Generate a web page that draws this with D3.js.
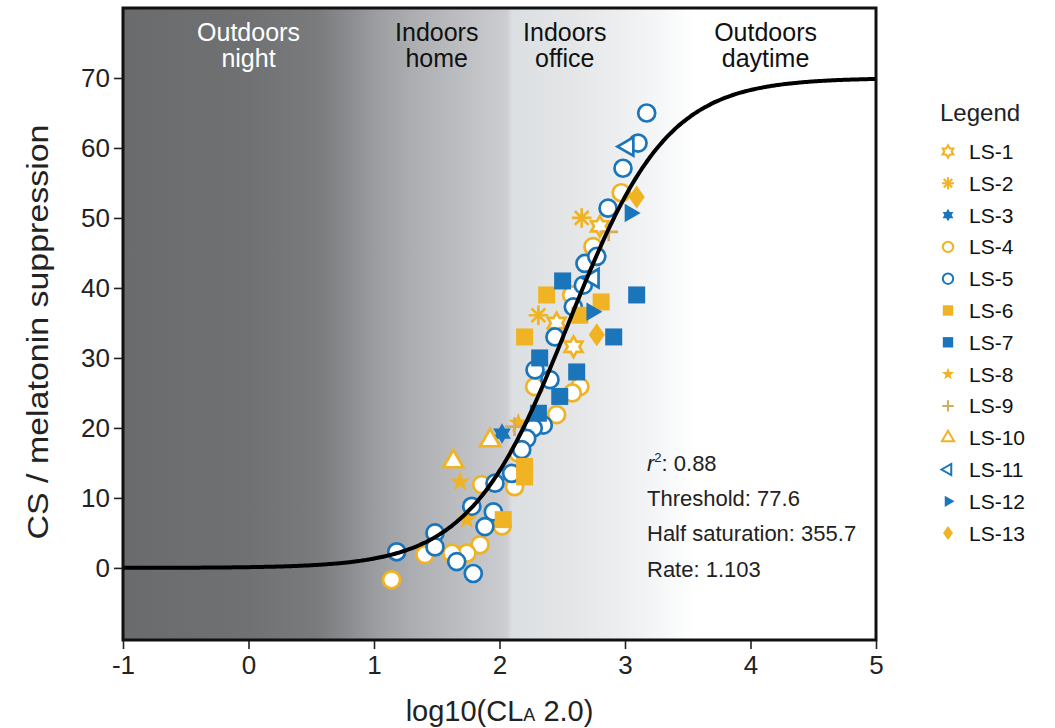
<!DOCTYPE html>
<html>
<head>
<meta charset="utf-8">
<script src="https://cdn.jsdelivr.net/npm/d3@7"></script>
<style>
  body { margin: 0; background: #fff; }
  text { font-family: "Liberation Sans", Arial, sans-serif; }
</style>
</head>
<body>
<svg id="chart" width="1055" height="728"></svg>
<script>
// Data: [log10(CLA 2.0), CS / melatonin suppression]
var ls1 = [[2.80, 48.8], [2.59, 31.6], [2.455, 35.0]];
var ls2 = [[2.655, 50.0], [2.31, 36.1]];
var ls3 = [[2.02, 19.2]];
var ls4 = [[2.97, 53.6], [2.745, 45.9], [2.575, 39.0], [2.28, 25.9], [2.64, 25.9], [2.58, 25.0],
           [2.455, 21.9], [2.15, 16.4], [1.858, 11.9], [2.12, 11.6], [2.02, 6.0], [1.845, 3.3],
           [1.74, 2.1], [1.62, 2.1], [1.406, 1.9], [1.14, -1.7]];
var ls5 = [[3.173, 65.0], [3.104, 60.7], [2.984, 57.1], [2.865, 51.4], [2.681, 43.5], [2.775, 44.5],
           [2.668, 40.4], [2.588, 37.3], [2.442, 33.0], [2.283, 28.3], [2.402, 26.9], [2.349, 20.4],
           [2.269, 20.0], [2.217, 18.5], [2.177, 16.9], [2.097, 13.5], [1.964, 12.1], [1.779, 8.8],
           [1.951, 8.0], [1.884, 5.9], [1.486, 5.0], [1.486, 3.0], [1.659, 0.9], [1.791, -0.8], [1.181, 2.3]];
var ls6 = [[2.376, 39.0], [2.81, 38.0], [2.64, 36.1], [2.20, 33.0], [2.20, 14.5], [2.20, 13.0], [2.03, 6.9]];
var ls7 = [[2.503, 41.0], [3.093, 39.0], [2.91, 33.0], [2.32, 30.0], [2.615, 28.0], [2.48, 24.5], [2.31, 22.1]];
var ls8 = [[2.15, 20.7], [1.685, 12.3], [1.74, 6.9]];
var ls9 = [[2.87, 48.0], [2.12, 20.2]];
var ls10 = [[1.925, 18.2], [1.632, 15.2]];
var ls11 = [[3.024, 60.2], [2.747, 41.4]];
var ls12 = [[3.04, 50.7], [2.735, 36.6]];
var ls13 = [[3.093, 53.0], [2.775, 33.3]];

var seriesNames = ['LS-1', 'LS-2', 'LS-3', 'LS-4', 'LS-5', 'LS-6', 'LS-7', 'LS-8', 'LS-9', 'LS-10', 'LS-11', 'LS-12', 'LS-13'];
var seriesData = [ls1, ls2, ls3, ls4, ls5, ls6, ls7, ls8, ls9, ls10, ls11, ls12, ls13];

var xTicks = [-1, 0, 1, 2, 3, 4, 5];
var yTicks = [0, 10, 20, 30, 40, 50, 60, 70];

var zoneNames = [['Outdoors', 'night'], ['Indoors', 'home'], ['Indoors', 'office'], ['Outdoors', 'daytime']];
var zoneCenters = [0.0, 1.5, 2.52, 4.12];

// fitted curve parameters (as printed on the chart)
var fitMax = 70, halfSat = 355.7, rate = 1.103, threshold = 77.6, r2 = 0.88;

// Set up
var orange = '#f0b323', blue = '#1b75bb', tan = '#d7aa62';
var markerStyles = [
    { shape: 'hexagram', color: orange, open: true },
    { shape: 'asterisk', color: orange, line: true },
    { shape: 'hexagram', color: blue },
    { shape: 'circle', color: orange, open: true },
    { shape: 'circle', color: blue, open: true },
    { shape: 'square', color: orange },
    { shape: 'square', color: blue },
    { shape: 'star', color: orange },
    { shape: 'plus', color: tan, line: true },
    { shape: 'triUp', color: orange, open: true },
    { shape: 'triLeft', color: blue, open: true },
    { shape: 'triRight', color: blue },
    { shape: 'diamond', color: orange }
];

var margin = { left: 123, right: 179, top: 8, bottom: 88 },
    width = 1055, height = 728;

var svg = d3.select('#chart');
var xScale = d3.scaleLinear().domain([-1, 5]).range([margin.left, width - margin.right]);
var yScale = d3.scaleLinear().domain([-10.3, 80]).range([height - margin.bottom, margin.top]);

// polygon helper: alternating outer/inner radius
function poly(n, R, r, start) {
    var pts = [], k = r ? 2 * n : n;
    for (var i = 0; i < k; i++) {
        var a = (start + i * 360 / k) * Math.PI / 180;
        var rr = (r && i % 2) ? r : R;
        pts.push([rr * Math.cos(a), rr * Math.sin(a)]);
    }
    return 'M' + pts.map(function(p) { return p[0].toFixed(2) + ',' + p[1].toFixed(2); }).join('L') + 'Z';
}

function markerPath(shape, s) {
    switch (shape) {
        case 'circle': return d3.symbol(d3.symbolCircle, Math.PI * s * s)();
        case 'square': return 'M' + (-s) + ',' + (-s) + 'h' + 2 * s + 'v' + 2 * s + 'h' + (-2 * s) + 'Z';
        case 'diamond': return 'M0,' + (-1.35 * s) + 'L' + (0.95 * s) + ',0L0,' + (1.35 * s) + 'L' + (-0.95 * s) + ',0Z';
        case 'star': return poly(5, 1.25 * s, 0.5 * s, -90);
        case 'hexagram': return poly(6, 1.2 * s, 1.2 * s / Math.sqrt(3), -90);
        case 'triUp': return poly(3, 1.35 * s, 0, -90);
        case 'triLeft': return poly(3, 1.25 * s, 0, 180);
        case 'triRight': return poly(3, 1.25 * s, 0, 0);
        case 'asterisk':
            var p = '';
            for (var i = 0; i < 4; i++) {
                var a = i * Math.PI / 4, c = Math.cos(a) * 1.15 * s, d = Math.sin(a) * 1.15 * s;
                p += 'M' + (-c).toFixed(2) + ',' + (-d).toFixed(2) + 'L' + c.toFixed(2) + ',' + d.toFixed(2);
            }
            return p;
        case 'plus':
            return 'M' + (-1.1 * s) + ',0H' + (1.1 * s) + 'M0,' + (-1.1 * s) + 'V' + (1.1 * s);
    }
}

function styleMarker(sel, st, sw) {
    sel.attr('fill', st.line ? 'none' : (st.open ? '#fff' : st.color))
        .attr('stroke', (st.open || st.line) ? st.color : 'none')
        .attr('stroke-width', sw);
}

// background gradient (light environment zones)
var defs = svg.append('defs');
var grad = defs.append('linearGradient')
    .attr('id', 'bg')
    .attr('gradientUnits', 'userSpaceOnUse')
    .attr('x1', xScale(-1)).attr('x2', xScale(5))
    .attr('y1', 0).attr('y2', 0);
var stops = [[-1, '#6a6b6d'], [0.0, '#707173'], [0.55, '#7a7b7d'], [0.8, '#8b8c8f'], [1.0, '#9a9c9f'],
             [1.3, '#abadb0'], [1.6, '#b8babd'], [2.0, '#c9cbce'], [2.06, '#cfced3'], [2.1, '#dcdfe1'],
             [2.6, '#e4e6e8'], [3.0, '#edeff0'], [3.3, '#f6f7f8'], [3.55, '#ffffff'], [5, '#ffffff']];
stops.forEach(function(s) {
    grad.append('stop')
        .attr('offset', ((s[0] + 1) / 6 * 100) + '%')
        .attr('stop-color', s[1]);
});

defs.append('clipPath').attr('id', 'clip')
    .append('rect')
    .attr('x', xScale(-1)).attr('y', yScale(80))
    .attr('width', xScale(5) - xScale(-1))
    .attr('height', yScale(-10.3) - yScale(80));

svg.append('rect')
    .attr('x', xScale(-1)).attr('y', yScale(80))
    .attr('width', xScale(5) - xScale(-1))
    .attr('height', yScale(-10.3) - yScale(80))
    .attr('fill', 'url(#bg)');

// zone labels
zoneNames.forEach(function(z, i) {
    var t = svg.append('text')
        .attr('x', xScale(zoneCenters[i]))
        .attr('y', 41)
        .attr('text-anchor', 'middle')
        .attr('font-size', 25)
        .attr('fill', i === 0 ? '#ffffff' : '#111');
    t.append('tspan').attr('x', xScale(zoneCenters[i])).text(z[0]);
    t.append('tspan').attr('x', xScale(zoneCenters[i])).attr('dy', 26).text(z[1]);
});

// Draw markers
var chartG = svg.append('g').attr('clip-path', 'url(#clip)');
seriesData.forEach(function(data, i) {
    var st = markerStyles[i];
    chartG.selectAll('.m' + i)
        .data(data)
        .enter().append('path')
        .attr('class', 'm' + i)
        .attr('d', markerPath(st.shape, 8.5))
        .attr('transform', function(d) { return 'translate(' + xScale(d[0]) + ',' + yScale(d[1]) + ')'; })
        .call(styleMarker, st, 2.7);
});

// fitted curve
var curveX = d3.range(-1, 5.001, 0.02);
var fitLine = d3.line()
    .x(function(d) { return xScale(d); })
    .y(function(d) { return yScale(fitMax * (1 - 1 / (1 + Math.pow(Math.pow(10, d) / halfSat, rate)))); })
    .curve(d3.curveBasis);
chartG.append('path')
    .datum(curveX)
    .attr('d', fitLine)
    .attr('fill', 'none')
    .attr('stroke', '#000')
    .attr('stroke-width', 4);

// frame
svg.append('rect')
    .attr('x', xScale(-1)).attr('y', yScale(80))
    .attr('width', xScale(5) - xScale(-1))
    .attr('height', yScale(-10.3) - yScale(80))
    .attr('fill', 'none')
    .attr('stroke', '#111')
    .attr('stroke-width', 3);

// axes
var xAxis = d3.axisBottom(xScale).tickValues(xTicks).tickSize(8).tickPadding(7).tickFormat(d3.format('d'));
var yAxis = d3.axisLeft(yScale).tickValues(yTicks).tickSize(8).tickPadding(4);

var gx = svg.append('g').attr('class', 'axis x')
    .attr('transform', 'translate(0,' + (height - margin.bottom + 1) + ')')
    .call(xAxis);
var gy = svg.append('g').attr('class', 'axis y')
    .attr('transform', 'translate(' + (margin.left - 1) + ',0)')
    .call(yAxis);
svg.selectAll('.axis .domain').remove();
svg.selectAll('.axis line').attr('stroke', '#222').attr('stroke-width', 1.6);
svg.selectAll('.axis text')
    .attr('font-size', 26)
    .attr('fill', '#222')
    .style('font-family', '"Liberation Sans", Arial, sans-serif');
gx.selectAll('text').text(function(d) { return d < 0 ? '-' + Math.abs(d) : d; });

// axis titles
var xt = svg.append('text')
    .attr('x', (xScale(-1) + xScale(5)) / 2)
    .attr('y', 721)
    .attr('text-anchor', 'middle')
    .attr('font-size', 29)
    .attr('fill', '#222');
xt.append('tspan').text('log10(CL');
xt.append('tspan').attr('font-size', 18).text('A');
xt.append('tspan').text(' 2.0)');

svg.append('text')
    .attr('transform', 'translate(48,' + ((yScale(80) + yScale(-10.3)) / 2 + 8) + ') rotate(-90)')
    .attr('text-anchor', 'middle')
    .attr('font-size', 30)
    .attr('textLength', 415)
    .attr('lengthAdjust', 'spacingAndGlyphs')
    .attr('fill', '#222')
    .text('CS / melatonin suppression');

// fit statistics
var statsX = 647, statsSize = 22;
var r2Text = svg.append('text').attr('x', statsX).attr('y', 471).attr('font-size', statsSize).attr('fill', '#222');
r2Text.append('tspan').attr('font-style', 'italic').text('r');
r2Text.append('tspan').attr('font-size', 13).attr('dy', -9).text('2');
r2Text.append('tspan').attr('dy', 9).text(': ' + r2.toFixed(2));
svg.append('text').attr('x', statsX).attr('y', 506).attr('font-size', statsSize).attr('fill', '#222')
    .text('Threshold: ' + threshold.toFixed(1));
svg.append('text').attr('x', statsX).attr('y', 541).attr('font-size', statsSize).attr('fill', '#222')
    .text('Half saturation: ' + halfSat.toFixed(1));
svg.append('text').attr('x', statsX).attr('y', 577).attr('font-size', statsSize).attr('fill', '#222')
    .text('Rate: ' + rate.toFixed(3));

// legend
var legend = svg.append('g').attr('class', 'legend');
legend.append('text')
    .attr('x', 940).attr('y', 121)
    .attr('font-size', 24)
    .attr('fill', '#222')
    .text('Legend');
seriesNames.forEach(function(name, i) {
    var yy = 151.5 + i * 31.8;
    var st = markerStyles[i];
    legend.append('path')
        .attr('d', markerPath(st.shape, 5.2))
        .attr('transform', 'translate(948,' + yy + ')')
        .call(styleMarker, st, 2);
    legend.append('text')
        .attr('x', 969).attr('y', yy + 7.5)
        .attr('font-size', 21)
        .attr('fill', '#111')
        .text(name);
});
</script>
</body>
</html>
